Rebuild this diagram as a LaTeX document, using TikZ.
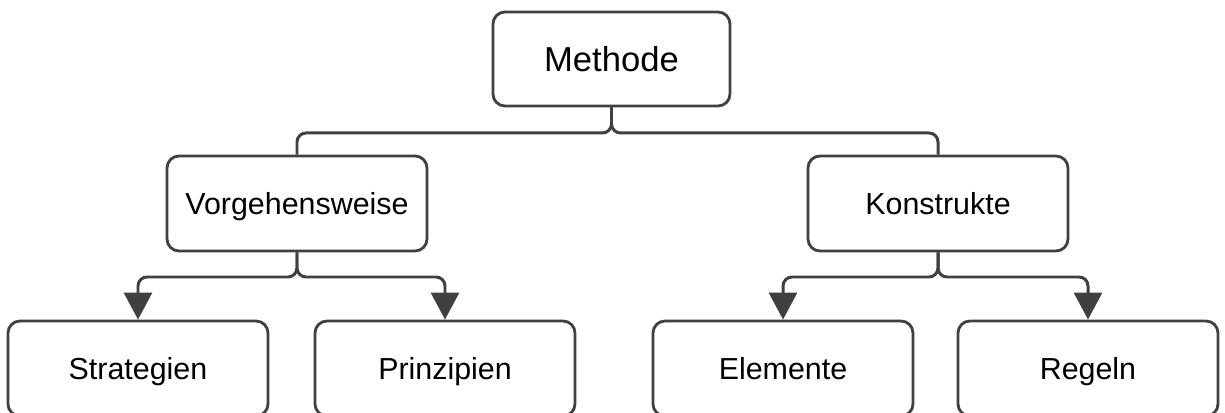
\documentclass[tikz,border=0pt]{standalone}
\usepackage{fontspec}
\setmainfont{Liberation Sans}
\usetikzlibrary{arrows.meta}
\definecolor{linie}{HTML}{404040}

\begin{document}
\begin{tikzpicture}[
        kasten/.style={draw=linie, line width=1.6pt, rounded corners=0.24cm,
            minimum width=5.2cm, minimum height=1.9cm, text height=12.4pt, text depth=0pt,
            font=\fontsize{17.3}{20}\selectfont},
        verbindung/.style={draw=linie, line width=1.7pt, rounded corners=0.18cm},
        pfeil/.style={verbindung, -{Triangle[width=0.56cm,length=0.54cm]}}
    ]
        \useasboundingbox (0,0) rectangle (24.5,8.26);

        \begin{scope}[every node/.style={kasten}]
            \node (M) at (12.23,7.08) [minimum width=4.74cm, minimum height=1.88cm,
                text height=14.1pt, font=\fontsize{19.7}{23}\selectfont] {Methode};
            \node (V) at (5.94,4.19) {Vorgehensweise};
            \node (K) at (18.76,4.19) {Konstrukte};
            \node (S) at (2.76,0.89) {Strategien};
            \node (P) at (8.9,0.89) {Prinzipien};
            \node (E) at (15.66,0.89) {Elemente};
            \node (R) at (21.76,0.89) {Regeln};
        \end{scope}

        % Sammelschienen
        \coordinate (obenBus) at (0,5.6);
        \coordinate (untenBus) at (0,2.72);

        % Methode
        \draw[verbindung] (M.south) -- (M.south |- obenBus) -- (V.north |- obenBus) -- (V.north);
        \draw[verbindung] (M.south) -- (M.south |- obenBus) -- (K.north |- obenBus) -- (K.north);

        % Vorgehensweise
        \draw[pfeil] (V.south) -- (V.south |- untenBus) -- (S.north |- untenBus) -- (S.north);
        \draw[pfeil] (V.south) -- (V.south |- untenBus) -- (P.north |- untenBus) -- (P.north);

        % Konstrukte
        \draw[pfeil] (K.south) -- (K.south |- untenBus) -- (E.north |- untenBus) -- (E.north);
        \draw[pfeil] (K.south) -- (K.south |- untenBus) -- (R.north |- untenBus) -- (R.north);
    \end{tikzpicture}
\end{document}
